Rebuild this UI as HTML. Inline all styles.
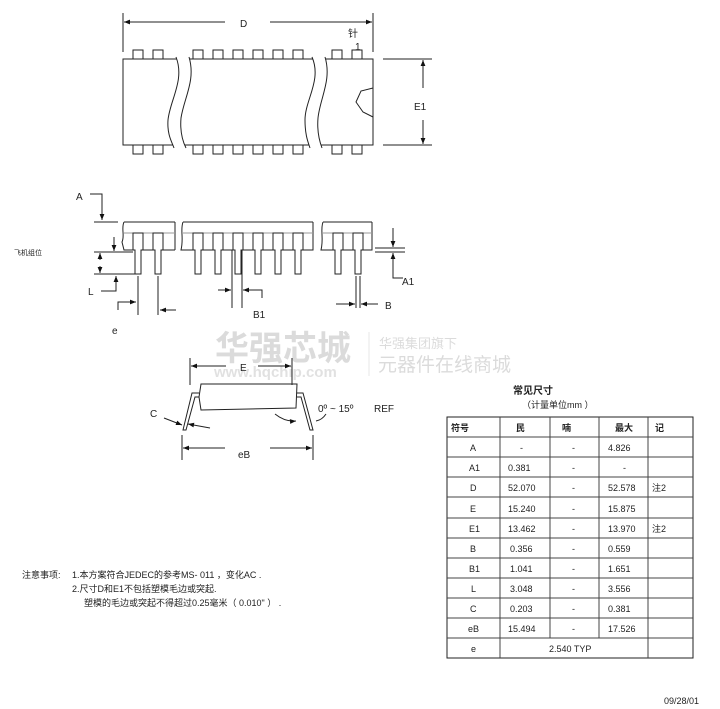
<!DOCTYPE html>
<html><head><meta charset="utf-8"><style>
body{margin:0;background:#fff;width:720px;height:709px;overflow:hidden}
svg{display:block}
text{font-family:"Liberation Sans","Noto Sans CJK SC",sans-serif;fill:#222}
</style></head><body>
<svg width="720" height="709" viewBox="0 0 720 709" xmlns="http://www.w3.org/2000/svg">
<defs>
<marker id="ar" viewBox="0 0 10 10" refX="10" refY="5" markerWidth="8" markerHeight="6" orient="auto-start-reverse"><path d="M0,1 L10,5 L0,9 z" fill="#111"/></marker>
</defs>
<!-- watermark -->
<g opacity="0.35">
<text x="215" y="360" font-size="34" font-weight="bold" fill="#999" style="fill:#999">华强芯城</text>
<text x="214" y="377" font-size="15" font-weight="bold" style="fill:#aaa">www.hqchip.com</text>
<line x1="369" y1="332" x2="369" y2="376" stroke="#bbb"/>
<text x="379" y="348" font-size="13" style="fill:#999">华强集团旗下</text>
<text x="378" y="371" font-size="19" style="fill:#999">元器件在线商城</text>
</g>
<g stroke="#222" stroke-width="1" fill="none">
<!-- top view -->
<line x1="123" y1="13" x2="123" y2="52"/><line x1="373" y1="13" x2="373" y2="52"/>
<line x1="124" y1="22" x2="225" y2="22" marker-start="url(#ar)"/>
<line x1="270" y1="22" x2="372" y2="22" marker-end="url(#ar)"/>
<rect x="123" y="59" width="250" height="86" fill="#fff"/>
<g fill="#fff">
<rect x="133" y="50" width="10" height="9"/><rect x="153" y="50" width="10" height="9"/>
<rect x="193" y="50" width="10" height="9"/><rect x="213" y="50" width="10" height="9"/><rect x="233" y="50" width="10" height="9"/><rect x="253" y="50" width="10" height="9"/><rect x="273" y="50" width="10" height="9"/><rect x="293" y="50" width="10" height="9"/>
<rect x="332" y="50" width="10" height="9"/><rect x="352" y="50" width="10" height="9"/>
<rect x="133" y="145" width="10" height="9"/><rect x="153" y="145" width="10" height="9"/>
<rect x="193" y="145" width="10" height="9"/><rect x="213" y="145" width="10" height="9"/><rect x="233" y="145" width="10" height="9"/><rect x="253" y="145" width="10" height="9"/><rect x="273" y="145" width="10" height="9"/><rect x="293" y="145" width="10" height="9"/>
<rect x="332" y="145" width="10" height="9"/><rect x="352" y="145" width="10" height="9"/>
</g>
<path d="M176,57 C185,80 170,100 168,120 C167,135 172,142 174,148 L186,148 C182,140 180,130 181,118 C184,98 196,80 189,57 Z" fill="#fff" stroke="none"/>
<path d="M176,57 C185,80 170,100 168,120 C167,135 172,142 174,148"/>
<path d="M189,57 C196,80 184,98 181,118 C180,130 182,140 186,148"/>
<path d="M312,57 C322,80 305,100 305,120 C305,135 308,142 310,148 L322,148 C319,140 317,130 318,118 C320,98 332,80 325,57 Z" fill="#fff" stroke="none"/>
<path d="M312,57 C322,80 305,100 305,120 C305,135 308,142 310,148"/>
<path d="M325,57 C332,80 320,98 318,118 C317,130 319,140 322,148"/>
<path d="M373,88 L361,91 L356,102 L363,112 L373,117"/>
<line x1="383" y1="59" x2="432" y2="59"/><line x1="383" y1="145" x2="432" y2="145"/>
<line x1="423" y1="88" x2="423" y2="60" marker-end="url(#ar)"/>
<line x1="423" y1="120" x2="423" y2="144" marker-end="url(#ar)"/>
<!-- side view -->
<path d="M124,222 L175,222 M183,222 L313,222 M323,222 L372,222"/>
<path d="M124,222 C121,228 125,236 122,242 L124,250 L175,250 M175,222 L175,250" />
<path d="M183,222 C180,230 184,238 181,250 L313,250 L313,222"/>
<path d="M323,222 C320,230 324,238 321,250 L372,250 L372,222"/>
<path d="M124,233 L175,233 M183,233 L313,233 M323,233 L372,233" stroke="#999"/>
<g fill="#fff">
<path d="M133,233 L143,233 L143,250 L141,250 L141,274 L135,274 L135,250 L133,250 Z"/>
<path d="M153,233 L163,233 L163,250 L161,250 L161,274 L155,274 L155,250 L153,250 Z"/>
<path d="M193,233 L203,233 L203,250 L201,250 L201,274 L195,274 L195,250 L193,250 Z"/>
<path d="M213,233 L223,233 L223,250 L221,250 L221,274 L215,274 L215,250 L213,250 Z"/>
<path d="M233,233 L243,233 L243,250 L241,250 L241,274 L235,274 L235,250 L233,250 Z"/>
<path d="M253,233 L263,233 L263,250 L261,250 L261,274 L255,274 L255,250 L253,250 Z"/>
<path d="M273,233 L283,233 L283,250 L281,250 L281,274 L275,274 L275,250 L273,250 Z"/>
<path d="M293,233 L303,233 L303,250 L301,250 L301,274 L295,274 L295,250 L293,250 Z"/>
<path d="M333,233 L343,233 L343,250 L341,250 L341,274 L335,274 L335,250 L333,250 Z"/>
<path d="M353,233 L363,233 L363,250 L361,250 L361,274 L355,274 L355,250 L353,250 Z"/>
</g>
<!-- A -->
<path d="M90,194 L102,194 L102,220" marker-end="url(#ar)"/>
<line x1="94" y1="222" x2="118" y2="222"/>
<line x1="94" y1="252" x2="133" y2="252"/>
<line x1="94" y1="274" x2="137" y2="274"/>
<line x1="114" y1="237" x2="114" y2="251" marker-end="url(#ar)"/>
<line x1="100" y1="260" x2="100" y2="253" marker-end="url(#ar)"/>
<line x1="100" y1="266" x2="100" y2="273" marker-end="url(#ar)"/>
<path d="M101,291 L116,291 L116,276" marker-end="url(#ar)"/>
<!-- e -->
<line x1="138" y1="276" x2="138" y2="315"/><line x1="158" y1="276" x2="158" y2="315"/>
<path d="M118,310 L118,302 L136,302" marker-end="url(#ar)"/>
<line x1="176" y1="310" x2="160" y2="310" marker-end="url(#ar)"/>
<!-- B1 -->
<line x1="232" y1="250" x2="232" y2="308"/><line x1="242" y1="250" x2="242" y2="308"/>
<line x1="218" y1="290" x2="231" y2="290" marker-end="url(#ar)"/>
<path d="M262,298 L262,290 L243,290" marker-end="url(#ar)"/>
<!-- B -->
<line x1="356" y1="276" x2="356" y2="308"/><line x1="360" y1="276" x2="360" y2="308"/>
<line x1="336" y1="304" x2="355" y2="304" marker-end="url(#ar)"/>
<line x1="378" y1="304" x2="361" y2="304" marker-end="url(#ar)"/>
<!-- A1 -->
<line x1="375" y1="248" x2="405" y2="248"/><line x1="375" y1="252" x2="405" y2="252"/>
<line x1="393" y1="228" x2="393" y2="247" marker-end="url(#ar)"/>
<path d="M403,278 L393,278 L393,253" marker-end="url(#ar)"/>
<!-- section view -->
<line x1="190" y1="358" x2="190" y2="385"/><line x1="292" y1="358" x2="292" y2="385"/>
<line x1="226" y1="366" x2="191" y2="366" marker-end="url(#ar)"/>
<line x1="258" y1="366" x2="291" y2="366" marker-end="url(#ar)"/>
<path d="M201,384 L297,384 L296,408 L201,410 L199,397 Z"/>
<path d="M199,393 L192,393 L183,430 L186,430 L195,397 L199,397"/>
<path d="M297,393 L303,393 L313,430 L310,430 L301,397 L297,397"/>
<line x1="182" y1="435" x2="182" y2="460"/><line x1="313" y1="435" x2="313" y2="460"/>
<line x1="225" y1="448" x2="183" y2="448" marker-end="url(#ar)"/>
<line x1="270" y1="448" x2="312" y2="448" marker-end="url(#ar)"/>
<line x1="164" y1="418" x2="182" y2="425" marker-end="url(#ar)"/>
<line x1="210" y1="428" x2="188" y2="424" marker-end="url(#ar)"/>
<path d="M275,414 Q285,422 296,421" marker-end="url(#ar)"/>
<path d="M316,421 Q322,420 326,414"/>
<!-- table -->
<rect x="447" y="417" width="246" height="241"/>
<g stroke="#444">
<line x1="447" y1="437" x2="693" y2="437"/><line x1="447" y1="457" x2="693" y2="457"/><line x1="447" y1="477" x2="693" y2="477"/><line x1="447" y1="497" x2="693" y2="497"/><line x1="447" y1="518" x2="693" y2="518"/><line x1="447" y1="538" x2="693" y2="538"/><line x1="447" y1="558" x2="693" y2="558"/><line x1="447" y1="578" x2="693" y2="578"/><line x1="447" y1="598" x2="693" y2="598"/><line x1="447" y1="618" x2="693" y2="618"/><line x1="447" y1="638" x2="693" y2="638"/>
<line x1="500" y1="417" x2="500" y2="658"/><line x1="550" y1="417" x2="550" y2="638"/><line x1="599" y1="417" x2="599" y2="638"/><line x1="648" y1="417" x2="648" y2="658"/>
</g>
</g>
<g font-size="10">
<text x="240" y="27">D</text>
<text x="348" y="37">针</text><text x="355" y="50">1</text>
<text x="414" y="110">E1</text>
<text x="76" y="200">A</text>
<text x="14" y="255" font-size="7">飞机组位</text>
<text x="88" y="295">L</text>
<text x="112" y="334">e</text>
<text x="253" y="318">B1</text>
<text x="385" y="309">B</text>
<text x="402" y="285">A1</text>
<text x="240" y="371">E</text>
<text x="150" y="417">C</text>
<text x="238" y="458">eB</text>
<text x="318" y="412">0º ~ 15º</text>
<text x="374" y="412">REF</text>
<text x="513" y="394" font-weight="bold">常见尺寸</text>
<text x="522" y="408" font-size="9">（计量单位mm ）</text>
<g font-size="9">
<text x="451" y="431" font-weight="bold">符号</text><text x="516" y="431" font-weight="bold">民</text><text x="562" y="431" font-weight="bold">喃</text><text x="615" y="431" font-weight="bold">最大</text><text x="655" y="431" font-weight="bold">记</text>
<text x="470" y="451">A</text><text x="520" y="451">-</text><text x="572" y="451">-</text><text x="608" y="451">4.826</text>
<text x="469" y="471">A1</text><text x="508" y="471">0.381</text><text x="572" y="471">-</text><text x="623" y="471">-</text>
<text x="470" y="491">D</text><text x="508" y="491">52.070</text><text x="572" y="491">-</text><text x="608" y="491">52.578</text><text x="652" y="491">注2</text>
<text x="470" y="512">E</text><text x="508" y="512">15.240</text><text x="572" y="512">-</text><text x="608" y="512">15.875</text>
<text x="469" y="532">E1</text><text x="508" y="532">13.462</text><text x="572" y="532">-</text><text x="608" y="532">13.970</text><text x="652" y="532">注2</text>
<text x="470" y="552">B</text><text x="510" y="552">0.356</text><text x="572" y="552">-</text><text x="608" y="552">0.559</text>
<text x="469" y="572">B1</text><text x="510" y="572">1.041</text><text x="572" y="572">-</text><text x="608" y="572">1.651</text>
<text x="471" y="592">L</text><text x="510" y="592">3.048</text><text x="572" y="592">-</text><text x="608" y="592">3.556</text>
<text x="470" y="612">C</text><text x="510" y="612">0.203</text><text x="572" y="612">-</text><text x="608" y="612">0.381</text>
<text x="468" y="632">eB</text><text x="508" y="632">15.494</text><text x="572" y="632">-</text><text x="608" y="632">17.526</text>
<text x="471" y="652">e</text><text x="549" y="652">2.540 TYP</text>
<text x="22" y="578">注意事项:</text><text x="72" y="578">1.本方案符合JEDEC的参考MS- 011 ，变化AC .</text>
<text x="72" y="592">2.尺寸D和E1不包括塑模毛边或突起.</text>
<text x="84" y="606">塑模的毛边或突起不得超过0.25毫米（  0.010" ） .</text>
<text x="664" y="704">09/28/01</text>
</g>
</g>
</svg>
</body></html>
